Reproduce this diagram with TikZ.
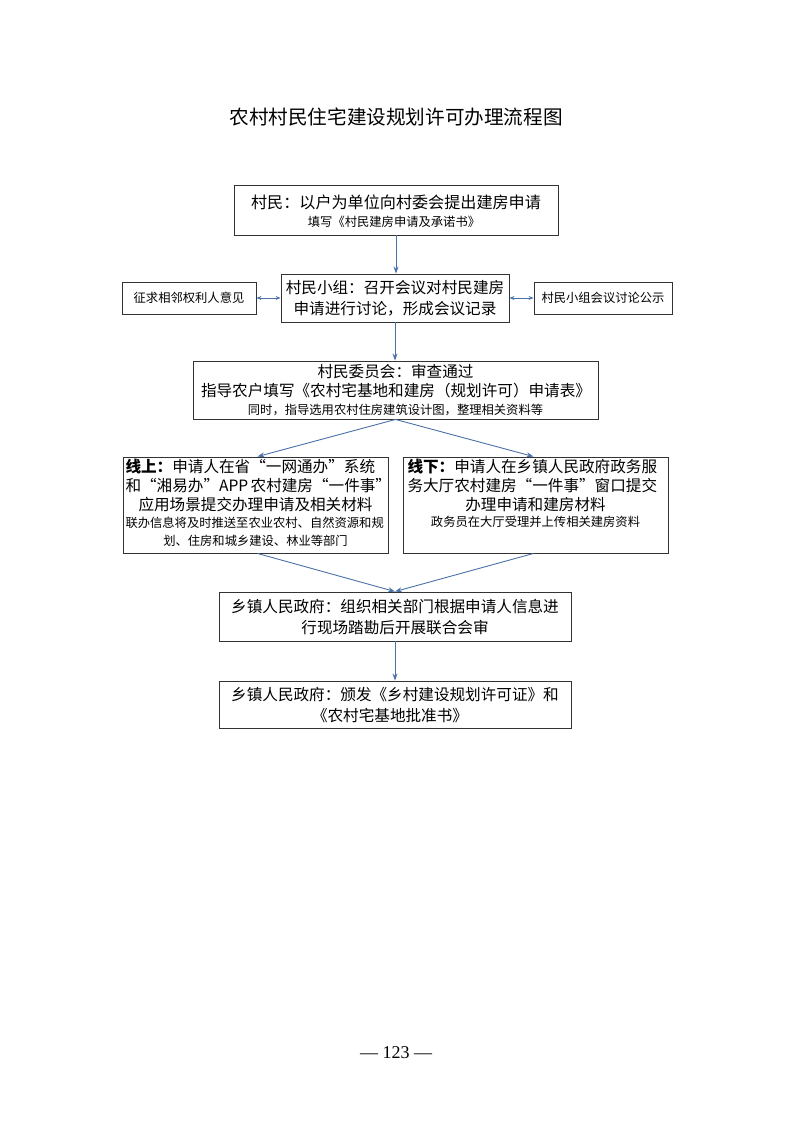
\documentclass[tikz,border=0pt]{standalone}
\usepackage{fontspec}
\setmainfont{Noto Sans CJK SC}
\newfontfamily\tnr{Liberation Serif}
\usetikzlibrary{arrows.meta}
\definecolor{arrowc}{HTML}{4A72A8}
\definecolor{boxc}{HTML}{333333}
\newcommand{\mainsz}{\fontsize{15.6}{18}\selectfont}
\newcommand{\smsz}{\fontsize{12.3}{14}\selectfont}
\newcommand{\jl}[2]{\hbox to #1{\XeTeXlinebreaklocale "zh"\XeTeXlinebreakskip=0pt plus 1fil minus 1pt\relax #2}}
\newcommand{\qo}{{\addfontfeatures{CharacterWidth=Full}“}}
\newcommand{\qc}{{\addfontfeatures{CharacterWidth=Full}”}}
\begin{document}
\begin{tikzpicture}[x=1pt,y=-1pt,
  box/.style={draw=boxc,line width=0.9pt,inner sep=0pt,fill=white},
  txt/.style={inner sep=0pt,anchor=center,font=\mainsz},
  stxt/.style={inner sep=0pt,anchor=center,font=\smsz},
  arr/.style={draw=arrowc,line width=0.9pt,-{Stealth[length=7pt,width=5pt]}},
  darr/.style={draw=arrowc,line width=0.9pt,{Stealth[length=5pt,width=4pt]}-{Stealth[length=5pt,width=4pt]}}]
\useasboundingbox (0,0) rectangle (793,1122);
\fill[white] (0,0) rectangle (793,1122);

% title
\node[inner sep=0pt,font=\fontsize{19.6}{23}\selectfont] (title) at (396,117) {农村村民住宅建设规划许可办理流程图};

% box 1
\node[box,minimum width=324pt,minimum height=50pt] (b1) at (396,210) {};
\node[txt,font=\fontsize{16.1}{18}\selectfont] (b1a) at (396,202) {村民：以户为单位向村委会提出建房申请};
\node[stxt] (b1b) at (394,222) {填写《村民建房申请及承诺书》};

% box 2 and side boxes
\node[box,minimum width=228pt,minimum height=48pt] (b2) at (395,298) {};
\node[txt] (b2a) at (395,288) {村民小组：召开会议对村民建房};
\node[txt] (b2b) at (395,309) {申请进行讨论，形成会议记录};
\node[box,minimum width=134pt,minimum height=32pt,font=\smsz] (bl) at (189,298) {征求相邻权利人意见};
\node[box,minimum width=138pt,minimum height=32pt,font=\smsz] (br) at (603,298) {村民小组会议讨论公示};

% box 3
\node[box,minimum width=405pt,minimum height=58pt] (b3) at (395.5,390) {};
\node[txt] (b3a) at (395.5,372) {村民委员会：审查通过};
\node[txt] (b3b) at (396,391) {指导农户填写《农村宅基地和建房（规划许可）申请表》};
\node[stxt] (b3c) at (395.5,410) {同时，指导选用农村住房建筑设计图，整理相关资料等};

% box 4
\node[box,minimum width=265pt,minimum height=96pt] (b4) at (255.5,505) {};
\node[txt] (b4a) at (255.5,467) {\jl{260pt}{\textbf{线上：}申请人在省\qo 一网通办\qc 系统}};
\node[txt] (b4b) at (255.5,486) {\jl{260pt}{和\qo 湘易办\qc APP 农村建房\qo 一件事\qc}};
\node[txt] (b4c) at (255.5,505) {应用场景提交办理申请及相关材料};
\node[stxt] (b4d) at (255.5,523) {\jl{260pt}{联办信息将及时推送至农业农村、自然资源和规}};
\node[stxt] (b4e) at (255.5,541) {划、住房和城乡建设、林业等部门};

% box 5
\node[box,minimum width=265pt,minimum height=96pt] (b5) at (535.5,505) {};
\node[txt] (b5a) at (535.5,467) {\jl{256pt}{\textbf{线下：}申请人在乡镇人民政府政务服}};
\node[txt] (b5b) at (535.5,486) {\jl{256pt}{务大厅农村建房\qo 一件事\qc 窗口提交}};
\node[txt] (b5c) at (535.5,505) {办理申请和建房材料};
\node[stxt] (b5d) at (535.5,522) {政务员在大厅受理并上传相关建房资料};

% box 6
\node[box,minimum width=352pt,minimum height=49pt] (b6) at (395,616.5) {};
\node[txt] (b6a) at (395,607) {乡镇人民政府：组织相关部门根据申请人信息进};
\node[txt] (b6b) at (395,628) {行现场踏勘后开展联合会审};

% box 7
\node[box,minimum width=352pt,minimum height=47pt] (b7) at (395,704.5) {};
\node[txt] (b7a) at (395,695) {乡镇人民政府：颁发《乡村建设规划许可证》和};
\node[txt] (b7b) at (390,716) {《农村宅基地批准书》};

% page number
\node[inner sep=0pt,font=\tnr\fontsize{18}{20}\selectfont] (pg) at (396,1053) {— 123 —};

% connectors
\draw[arr] (b1.south) -- (b1.south |- b2.north);
\draw[arr] (b2.south) -- (b2.south |- b3.north);
\draw[darr] (bl.east) -- (b2.west |- bl.east);
\draw[darr] (b2.east |- br.west) -- (br.west);
\draw[arr] (b3.south) -- ([xshift=2pt]b4.north);
\draw[arr] (b3.south) -- ([xshift=-2pt]b5.north);
\draw[arr] ([xshift=2pt]b4.south) -- (b6.north);
\draw[arr] ([xshift=-2pt]b5.south) -- (b6.north);
\draw[arr] (b6.south) -- (b7.north);
\end{tikzpicture}
\end{document}
